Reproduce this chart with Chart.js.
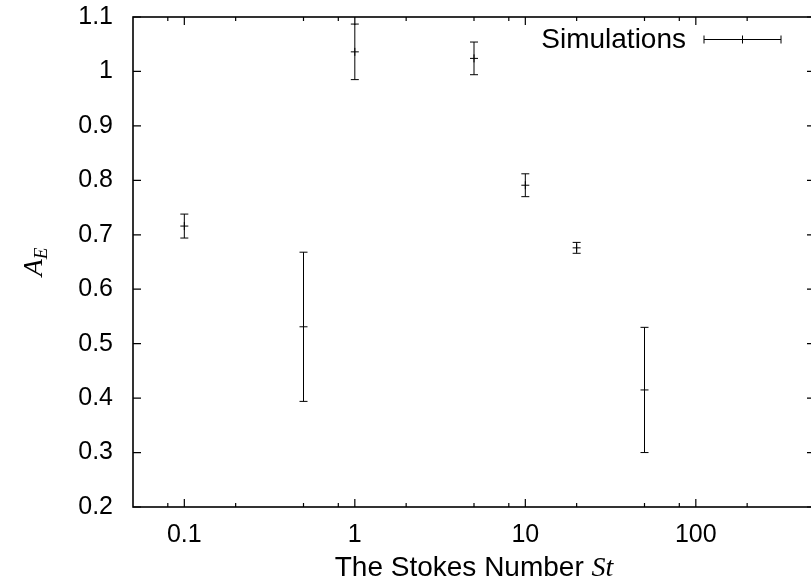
<!DOCTYPE html>
<html>
<head>
<meta charset="utf-8">
<script src="https://cdn.jsdelivr.net/npm/chart.js@4.4.1/dist/chart.umd.min.js"></script>
<style>
  html, body { margin: 0; padding: 0; background: #fff; overflow: hidden; }
  #wrap { width: 811px; height: 583px; overflow: hidden; }
</style>
</head>
<body>
<div id="wrap"><canvas id="chart" width="830" height="583"></canvas></div>
<script>
// Collection efficiency vs Stokes number, with error bars
const stokes = [0.1, 0.5, 1, 5, 10, 20, 50];
const efficiency = [0.716, 0.531, 1.036, 1.024, 0.791, 0.676, 0.415];
const errors = [0.022, 0.137, 0.051, 0.030, 0.021, 0.010, 0.115];

const xTicks = [0.1, 1, 10, 100];
const xMinorTicks = [0.08, 0.2, 0.5, 0.8, 2, 5, 8, 20, 50, 80, 200];
const yTicks = [0.2, 0.3, 0.4, 0.5, 0.6, 0.7, 0.8, 0.9, 1.0, 1.1];

const SANS = '"Liberation Sans", Arial, Helvetica, sans-serif';
const SERIF = '"Liberation Serif", "Times New Roman", serif';
const FONT_SIZE = 25;
const TITLE_SIZE = 28;

// gnuplot-style frame: border, inward ticks on all four sides, axis titles, key
const framePlugin = {
  id: "frame",
  afterDatasetsDraw(chart) {
    const ctx = chart.ctx;
    const { left, right, top, bottom } = chart.chartArea;
    const xs = chart.scales.x;
    const ys = chart.scales.y;

    // error bars
    ctx.save();
    ctx.strokeStyle = "#000";
    ctx.lineWidth = 1;
    stokes.forEach((s, i) => {
      const px = xs.getPixelForValue(s);
      const lo = ys.getPixelForValue(efficiency[i] - errors[i]);
      const hi = ys.getPixelForValue(efficiency[i] + errors[i]);
      ctx.beginPath();
      ctx.moveTo(px, lo);
      ctx.lineTo(px, hi);
      ctx.moveTo(px - 4, lo);
      ctx.lineTo(px + 4, lo);
      ctx.moveTo(px - 4, hi);
      ctx.lineTo(px + 4, hi);
      ctx.stroke();
    });

    // ticks
    ctx.lineWidth = 1.2;
    ctx.beginPath();
    yTicks.forEach((v) => {
      const py = ys.getPixelForValue(v);
      ctx.moveTo(left, py);
      ctx.lineTo(left + 8, py);
      ctx.moveTo(right, py);
      ctx.lineTo(right - 8, py);
    });
    xTicks.forEach((v) => {
      const px = xs.getPixelForValue(v);
      ctx.moveTo(px, bottom);
      ctx.lineTo(px, bottom - 8);
      ctx.moveTo(px, top);
      ctx.lineTo(px, top + 8);
    });
    xMinorTicks.forEach((v) => {
      const px = xs.getPixelForValue(v);
      ctx.moveTo(px, bottom);
      ctx.lineTo(px, bottom - 4);
      ctx.moveTo(px, top);
      ctx.lineTo(px, top + 4);
    });
    ctx.stroke();

    // border
    ctx.lineWidth = 1.6;
    ctx.strokeRect(left, top, right - left, bottom - top);

    // x title: "The Stokes Number St"
    ctx.fillStyle = "#000";
    ctx.textBaseline = "alphabetic";
    const sansFont = TITLE_SIZE + "px " + SANS;
    const serifFont = "italic " + TITLE_SIZE + "px " + SERIF;
    ctx.font = sansFont;
    const part1 = "The Stokes Number ";
    const w1 = ctx.measureText(part1).width;
    ctx.font = serifFont;
    const w2 = ctx.measureText("St").width;
    const cx = (left + right) / 2;
    const x0 = cx - (w1 + w2) / 2;
    ctx.font = sansFont;
    ctx.textAlign = "left";
    ctx.fillText(part1, x0, 576);
    ctx.font = serifFont;
    ctx.fillText("St", x0 + w1, 576);

    // y title: A_E rotated
    ctx.save();
    ctx.translate(42, (top + bottom) / 2);
    ctx.rotate(-Math.PI / 2);
    ctx.font = serifFont;
    const wa = ctx.measureText("A").width;
    ctx.font = "italic 19px " + SERIF;
    const we = ctx.measureText("E").width;
    const y0 = -(wa + we) / 2;
    ctx.font = serifFont;
    ctx.fillText("A", y0, 0);
    ctx.font = "italic 19px " + SERIF;
    ctx.fillText("E", y0 + wa, 5);
    ctx.restore();

    // key
    ctx.font = sansFont;
    ctx.textAlign = "right";
    ctx.textBaseline = "middle";
    ctx.fillText("Simulations", 686, 40);
    ctx.lineWidth = 1;
    ctx.beginPath();
    ctx.moveTo(704, 39.5);
    ctx.lineTo(781, 39.5);
    ctx.moveTo(704, 35.5);
    ctx.lineTo(704, 43.5);
    ctx.moveTo(781, 35.5);
    ctx.lineTo(781, 43.5);
    ctx.moveTo(742.5, 35.5);
    ctx.lineTo(742.5, 43.5);
    ctx.stroke();
    ctx.restore();
  },
};

const noPad = (scale) => {
  scale.paddingTop = 0;
  scale.paddingBottom = 0;
  scale.paddingLeft = 0;
  scale.paddingRight = 0;
};

new Chart(document.getElementById("chart"), {
  type: "scatter",
  data: {
    datasets: [
      {
        label: "Simulations",
        data: stokes.map((s, i) => ({ x: s, y: efficiency[i] })),
        pointStyle: "cross",
        pointRadius: 4,
        borderColor: "#000",
        borderWidth: 1,
        backgroundColor: "#000",
      },
    ],
  },
  options: {
    responsive: false,
    devicePixelRatio: 1,
    animation: false,
    layout: { padding: { top: 17, right: 15, left: 0, bottom: 0 } },
    plugins: {
      legend: { display: false },
      tooltip: { enabled: false },
    },
    scales: {
      x: {
        type: "logarithmic",
        min: 0.05,
        max: 500,
        grid: { display: false, drawTicks: false },
        border: { display: false },
        afterBuildTicks: (scale) => {
          scale.ticks = xTicks.map((v) => ({ value: v, major: true }));
        },
        afterFit: (scale) => {
          scale.height = 76;
          noPad(scale);
        },
        ticks: {
          autoSkip: false,
          maxRotation: 0,
          padding: 13,
          color: "#000",
          font: { family: SANS, size: FONT_SIZE },
          callback: (v) => String(v),
        },
      },
      y: {
        min: 0.2,
        max: 1.1,
        grid: { display: false, drawTicks: false },
        border: { display: false },
        afterBuildTicks: (scale) => {
          scale.ticks = yTicks.map((v) => ({ value: v }));
        },
        afterFit: (scale) => {
          scale.width = 133;
          noPad(scale);
        },
        ticks: {
          padding: 20,
          color: "#000",
          font: { family: SANS, size: FONT_SIZE },
          callback: (v) => String(Number(v.toFixed(1))),
        },
      },
    },
  },
  plugins: [framePlugin],
});
</script>
</body>
</html>
